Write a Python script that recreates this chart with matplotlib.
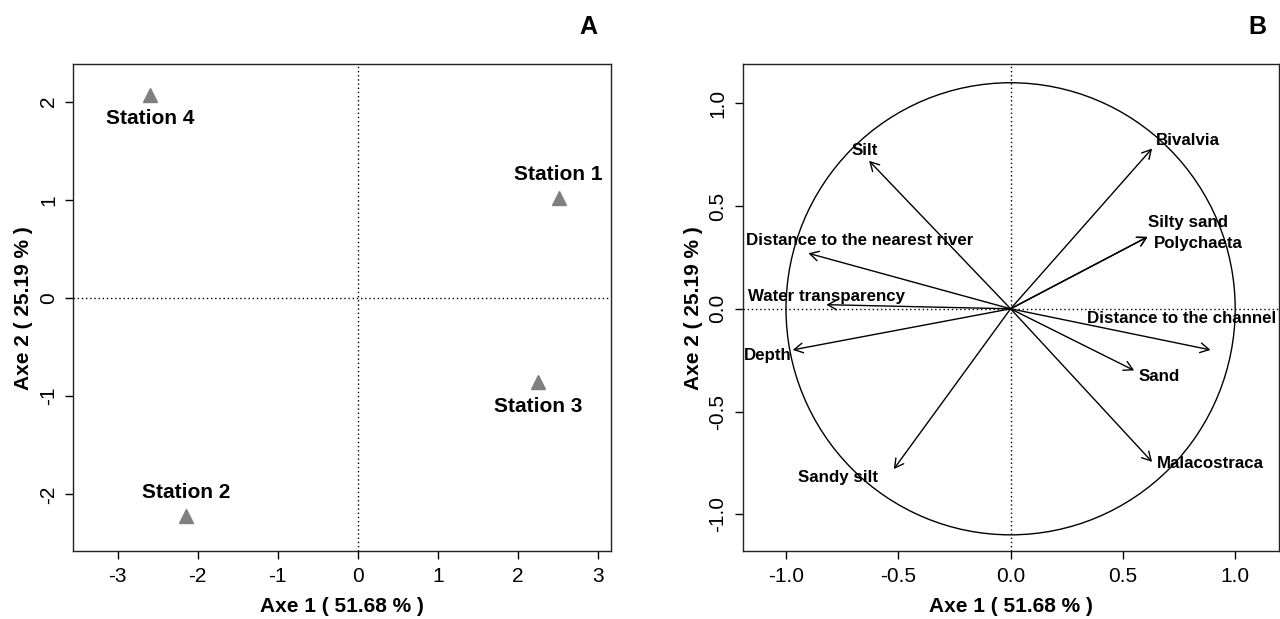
import matplotlib
matplotlib.use("Agg")
import matplotlib.pyplot as plt
from matplotlib.patches import Ellipse
import numpy as np

plt.rcParams['font.family'] = ['Liberation Sans', 'DejaVu Sans']
plt.rcParams['axes.unicode_minus'] = False

# station scores on the first two axes
stations = ["Station 1", "Station 2", "Station 3", "Station 4"]
st_x = [2.51, -2.15, 2.25, -2.60]
st_y = [1.02, -2.22, -0.86, 2.07]

# variable correlations with the two axes
variables = ["Silt", "Bivalvia", "Silty sand", "Polychaeta",
             "Distance to the nearest river", "Water transparency",
             "Depth", "Distance to the channel", "Sand",
             "Malacostraca", "Sandy silt"]
var_x = [-0.63, 0.63, 0.61, 0.61, -0.90, -0.82, -0.97, 0.89, 0.55, 0.63, -0.52]
var_y = [0.72, 0.78, 0.35, 0.35, 0.27, 0.02, -0.20, -0.20, -0.30, -0.745, -0.78]

# where each variable name sits
lab_x = [-0.65, 0.79, 0.79, 0.835, -0.67, -0.82, -1.08, 0.76, 0.66, 0.89, -0.77]
lab_y = [0.77, 0.82, 0.42, 0.32, 0.33, 0.06, -0.225, -0.045, -0.33, -0.755, -0.82]

xlab = "Axe 1 ( 51.68 % )"
ylab = "Axe 2 ( 25.19 % )"

fig = plt.figure(figsize=(12.8, 6.19), dpi=100)
axA = fig.add_axes([0.0573, 0.1094, 0.4198, 0.7868])
axB = fig.add_axes([0.5802, 0.1094, 0.4190, 0.7868])


def style(ax):
    for s in ax.spines.values():
        s.set_linewidth(1.0)
        s.set_color('#222222')
    ax.tick_params(direction='out', length=6, width=1, labelsize=15, pad=5)
    for t in ax.get_yticklabels():
        t.set_rotation(90)
        t.set_va('center')
    ax.axhline(0, color='black', lw=1, ls=(0, (1, 2)), zorder=1)
    ax.axvline(0, color='black', lw=1, ls=(0, (1, 2)), zorder=1)
    ax.set_xlabel(xlab, fontsize=15, fontweight='bold')
    ax.set_ylabel(ylab, fontsize=15, fontweight='bold')
    ax.xaxis.label.set_va('center')
    ax.yaxis.label.set_va('center')


# panel A: stations
axA.set_xlim(-3.555, 3.16)
axA.set_ylim(-2.58, 2.38)
axA.set_xticks([-3, -2, -1, 0, 1, 2, 3])
axA.set_yticks([-2, -1, 0, 1, 2])
style(axA)
axA.plot(st_x, st_y, ls='none', marker='^', ms=10, color='#808080', zorder=3)
offs = [17, 17, -17, -17]
for name, x, y, o in zip(stations, st_x, st_y, offs):
    axA.annotate(name, (x, y), xytext=(0, o), textcoords='offset points',
                 ha='center', va='center', fontsize=15, fontweight='bold')
axA.xaxis.set_label_coords(0.5, -0.114)
axA.yaxis.set_label_coords(-0.0925, 0.5)
fig.text(588 / 1280, 1 - 27 / 619, "A", fontsize=18, fontweight='bold',
         ha='center', va='center')

# panel B: correlation circle
axB.set_xlim(-1.193, 1.195)
axB.set_ylim(-1.18, 1.19)
axB.set_xticks([-1.0, -0.5, 0.0, 0.5, 1.0])
axB.set_yticks([-1.0, -0.5, 0.0, 0.5, 1.0])
axB.xaxis.set_major_formatter(matplotlib.ticker.FormatStrFormatter('%.1f'))
axB.yaxis.set_major_formatter(matplotlib.ticker.FormatStrFormatter('%.1f'))
style(axB)
axB.add_patch(Ellipse((0, 0), 2.0, 2.2, fill=False, ec='black', lw=1))
for x, y in zip(var_x, var_y):
    axB.annotate("", xy=(x, y), xytext=(0, 0),
                 arrowprops=dict(arrowstyle='->,head_length=0.45,head_width=0.25',
                                 lw=1, color='black', shrinkA=0, shrinkB=0,
                                 mutation_scale=14))
for name, x, y in zip(variables, lab_x, lab_y):
    axB.text(x, y, name, ha='center', va='center', fontsize=12.2, fontweight='bold')
axB.xaxis.set_label_coords(0.5, -0.114)
axB.yaxis.set_label_coords(-0.092, 0.5)
fig.text(1257 / 1280, 1 - 27 / 619, "B", fontsize=18, fontweight='bold',
         ha='center', va='center')

fig.savefig("out.png", dpi=100)
